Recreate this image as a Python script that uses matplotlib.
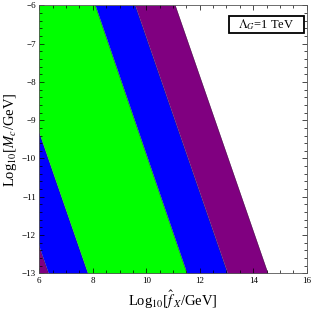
import numpy as np
import matplotlib
matplotlib.use("Agg")
import matplotlib.pyplot as plt
from matplotlib.patches import Rectangle
from matplotlib.ticker import MultipleLocator

plt.rcParams['font.family'] = ['Liberation Serif', 'DejaVu Serif']
plt.rcParams['mathtext.fontset'] = 'stix'

# region boundaries: x position of each line at the top (y=-6) and bottom (y=-13)
x_top = [2.87, 4.34, 8.09, 9.58, 11.08]
x_bot = [6.34, 7.81, 11.52, 13.04, 14.55]
colors = ['#800080', '#0000ff', '#00ff00', '#0000ff', '#800080']
y_min, y_max = -13, -6
x_min, x_max = 6, 16

fig = plt.figure(figsize=(3.12, 3.10), dpi=100)
ax = fig.add_axes([0.126, 0.118, 0.857, 0.865])

y = np.array([y_max, y_min])
edges = [np.array([xt, xb]) for xt, xb in zip(x_top, x_bot)]
# left boundary of first band sits far off to the left
left = np.array([0.0, 0.0])
for i, col in enumerate(colors):
    lo = left if i == 0 else edges[i - 1]
    hi = edges[i]
    ax.fill_betweenx(y, lo, hi, color=col, lw=0)
for e in edges:
    ax.plot(e, y, color='#303030', lw=0.4, alpha=0.6)

ax.set_xlim(x_min, x_max)
ax.set_ylim(y_min, y_max)
ax.xaxis.set_major_locator(MultipleLocator(2))
ax.xaxis.set_minor_locator(MultipleLocator(0.5))
ax.yaxis.set_major_locator(MultipleLocator(1))
ax.yaxis.set_minor_locator(MultipleLocator(0.2))
ax.tick_params(which='both', direction='in', top=True, right=True, labelsize=6.5, width=0.5, pad=2.5)
ax.tick_params(which='major', length=3.5)
ax.tick_params(which='minor', length=2)
for s in ax.spines.values():
    s.set_linewidth(0.6)
    s.set_color('#555555')

ax.set_xlabel(r'Log$_{10}$[$\hat{f}_{\,X}$/GeV]', fontsize=10.5, labelpad=3)
ax.set_ylabel(r'Log$_{10}$[$M_c$/GeV]', fontsize=10.5, labelpad=2)

# label box
ax.add_patch(Rectangle((0.709, 0.897), 0.281, 0.063, transform=ax.transAxes,
                       fc='white', ec='black', lw=1.3, zorder=5))
ax.text(0.849, 0.929, r'$\Lambda_G$=1 TeV', transform=ax.transAxes, ha='center', va='center',
        fontsize=9, zorder=6)

fig.savefig('out.png', dpi=100)
